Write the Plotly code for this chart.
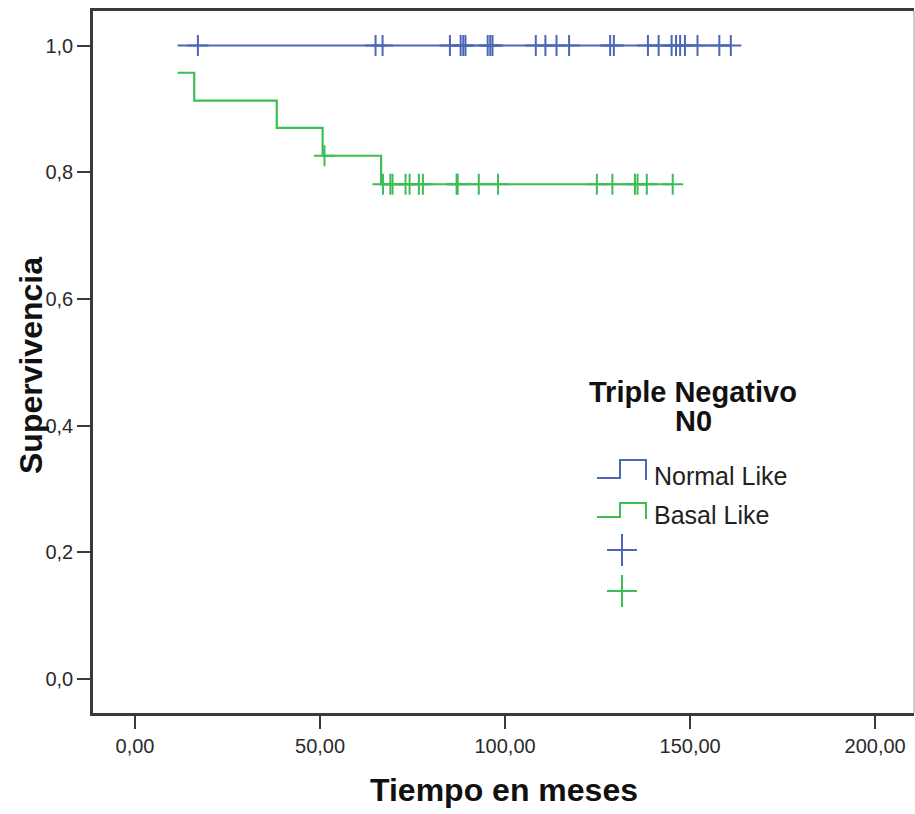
import plotly.graph_objects as go

# ---------------- data ----------------
x_tickvals = [0, 50, 100, 150, 200]
x_ticktext = ["0,00", "50,00", "100,00", "150,00", "200,00"]
y_tickvals = [0.0, 0.2, 0.4, 0.6, 0.8, 1.0]
y_ticktext = ["0,0", "0,2", "0,4", "0,6", "0,8", "1,0"]

# Normal Like (blue): no events, survival stays 1.0
normal_line_x = [11.5, 161.0]
normal_line_y = [1.0, 1.0]
normal_censored = [17.0, 65.0, 66.9, 85.1, 88.0, 88.7, 89.3, 95.3, 96.0, 96.6,
                   108.3, 110.9, 113.9, 117.3, 128.4, 129.4, 138.6, 141.5, 145.0,
                   146.2, 147.3, 148.6, 152.0, 157.9, 161.0]

# Basal Like (green): step times and survival after each step
basal_step_x = [11.5, 16.0, 38.3, 50.7, 66.5, 145.3]
basal_step_y = [0.957, 0.913, 0.870, 0.826, 0.781, 0.781]
basal_censored = [51.2, 67.0, 69.0, 69.6, 73.1, 74.2, 76.7, 77.8, 86.9, 87.2,
                  92.9, 98.1, 124.8, 129.0, 135.1, 135.8, 138.3, 145.3]

legend_title = ["Triple Negativo", "N0"]
group_names = ["Normal Like", "Basal Like"]

BLUE = "#4d66b8"
GREEN = "#3dbd55"
FONT = "Liberation Sans, Arial, sans-serif"


def surv_at(t, xs, ys):
    v = ys[0]
    for xx, yy in zip(xs, ys):
        if xx <= t:
            v = yy
    return v


fig = go.Figure()

fig.add_trace(go.Scatter(x=normal_line_x, y=normal_line_y, mode="lines",
                         line=dict(color=BLUE, width=2.2, shape="hv"),
                         showlegend=False, hoverinfo="skip"))
fig.add_trace(go.Scatter(x=normal_censored,
                         y=[surv_at(t, normal_line_x, normal_line_y) for t in normal_censored],
                         mode="markers",
                         marker=dict(symbol="cross-thin", size=15,
                                     line=dict(color=BLUE, width=2)),
                         showlegend=False))

fig.add_trace(go.Scatter(x=basal_step_x, y=basal_step_y, mode="lines",
                         line=dict(color=GREEN, width=2.2, shape="hv"),
                         showlegend=False, hoverinfo="skip"))
fig.add_trace(go.Scatter(x=basal_censored,
                         y=[surv_at(t, basal_step_x, basal_step_y) for t in basal_censored],
                         mode="markers",
                         marker=dict(symbol="cross-thin", size=15,
                                     line=dict(color=GREEN, width=2)),
                         showlegend=False))

# ---------------- layout ----------------
W, H = 915, 814
L, R, T, B = 93, 1, 11, 101
PW, PH = W - L - R, H - T - B


def px2paper(px, py):
    return (px - L) / PW, (H - B - py) / PH


shapes = []
# right frame line (thin, gray)
shapes.append(dict(type="line", xref="paper", yref="paper", x0=1, x1=1, y0=0, y1=1,
                   line=dict(color="#9a9a9a", width=1)))


def path_from_px(points):
    parts = []
    for i, (px, py) in enumerate(points):
        xx, yy = px2paper(px, py)
        parts.append(("M" if i == 0 else "L") + f"{xx:.5f},{yy:.5f}")
    return " ".join(parts)


# legend step icons
shapes.append(dict(type="path", xref="paper", yref="paper",
                   path=path_from_px([(597, 478), (620, 478), (620, 460), (646, 460), (646, 480)]),
                   line=dict(color=BLUE, width=2)))
shapes.append(dict(type="path", xref="paper", yref="paper",
                   path=path_from_px([(597, 517), (620, 517), (620, 503), (646, 503), (646, 519)]),
                   line=dict(color=GREEN, width=2)))
# legend censor crosses
for (cx, cy, col) in [(622, 550, BLUE), (622, 591, GREEN)]:
    shapes.append(dict(type="path", xref="paper", yref="paper",
                       path=path_from_px([(cx - 15, cy), (cx + 15, cy)]),
                       line=dict(color=col, width=2)))
    shapes.append(dict(type="path", xref="paper", yref="paper",
                       path=path_from_px([(cx, cy - 16), (cx, cy + 16)]),
                       line=dict(color=col, width=2)))

annotations = []
ax, ay = px2paper(693, 392)
annotations.append(dict(x=ax, y=ay, xref="paper", yref="paper", text=f"<b>{legend_title[0]}</b>",
                        showarrow=False, xanchor="center", yanchor="middle",
                        font=dict(family=FONT, size=29, color="#111")))
ax, ay = px2paper(693, 421)
annotations.append(dict(x=ax, y=ay, xref="paper", yref="paper", text=f"<b>{legend_title[1]}</b>",
                        showarrow=False, xanchor="center", yanchor="middle",
                        font=dict(family=FONT, size=29, color="#111")))
for name, py in zip(group_names, [476, 515]):
    ax, ay = px2paper(652, py)
    annotations.append(dict(x=ax, y=ay, xref="paper", yref="paper", text=name,
                            showarrow=False, xanchor="left", yanchor="middle",
                            font=dict(family=FONT, size=25, color="#222")))

# axis titles
ax, ay = px2paper(504, 790)
annotations.append(dict(x=ax, y=ay, xref="paper", yref="paper", text="<b>Tiempo en meses</b>",
                        showarrow=False, xanchor="center", yanchor="middle",
                        font=dict(family=FONT, size=32, color="#111")))
ax, ay = px2paper(31, 366)
annotations.append(dict(x=ax, y=ay, xref="paper", yref="paper", text="<b>Supervivencia</b>",
                        showarrow=False, xanchor="center", yanchor="middle", textangle=-90,
                        font=dict(family=FONT, size=32, color="#111")))

fig.update_layout(
    width=W, height=H,
    margin=dict(l=L, r=R, t=T, b=B, pad=0),
    paper_bgcolor="white", plot_bgcolor="white",
    showlegend=False,
    shapes=shapes,
    annotations=annotations,
    xaxis=dict(range=[-11.35, 210.5], tickvals=x_tickvals, ticktext=x_ticktext,
               showgrid=False, zeroline=False,
               showline=True, linecolor="#3a3a3a", linewidth=2.5, mirror=True,
               ticks="outside", ticklen=13, tickwidth=2, tickcolor="#3a3a3a",
               tickfont=dict(family=FONT, size=20, color="#2a2a2a")),
    yaxis=dict(range=[-0.0537, 1.0545], tickvals=y_tickvals, ticktext=y_ticktext,
               showgrid=False, zeroline=False,
               showline=True, linecolor="#3a3a3a", linewidth=2.5, mirror=False,
               ticks="outside", ticklen=13, tickwidth=2, tickcolor="#3a3a3a",
               tickfont=dict(family=FONT, size=20, color="#2a2a2a")),
)

fig.write_html("out.html")
